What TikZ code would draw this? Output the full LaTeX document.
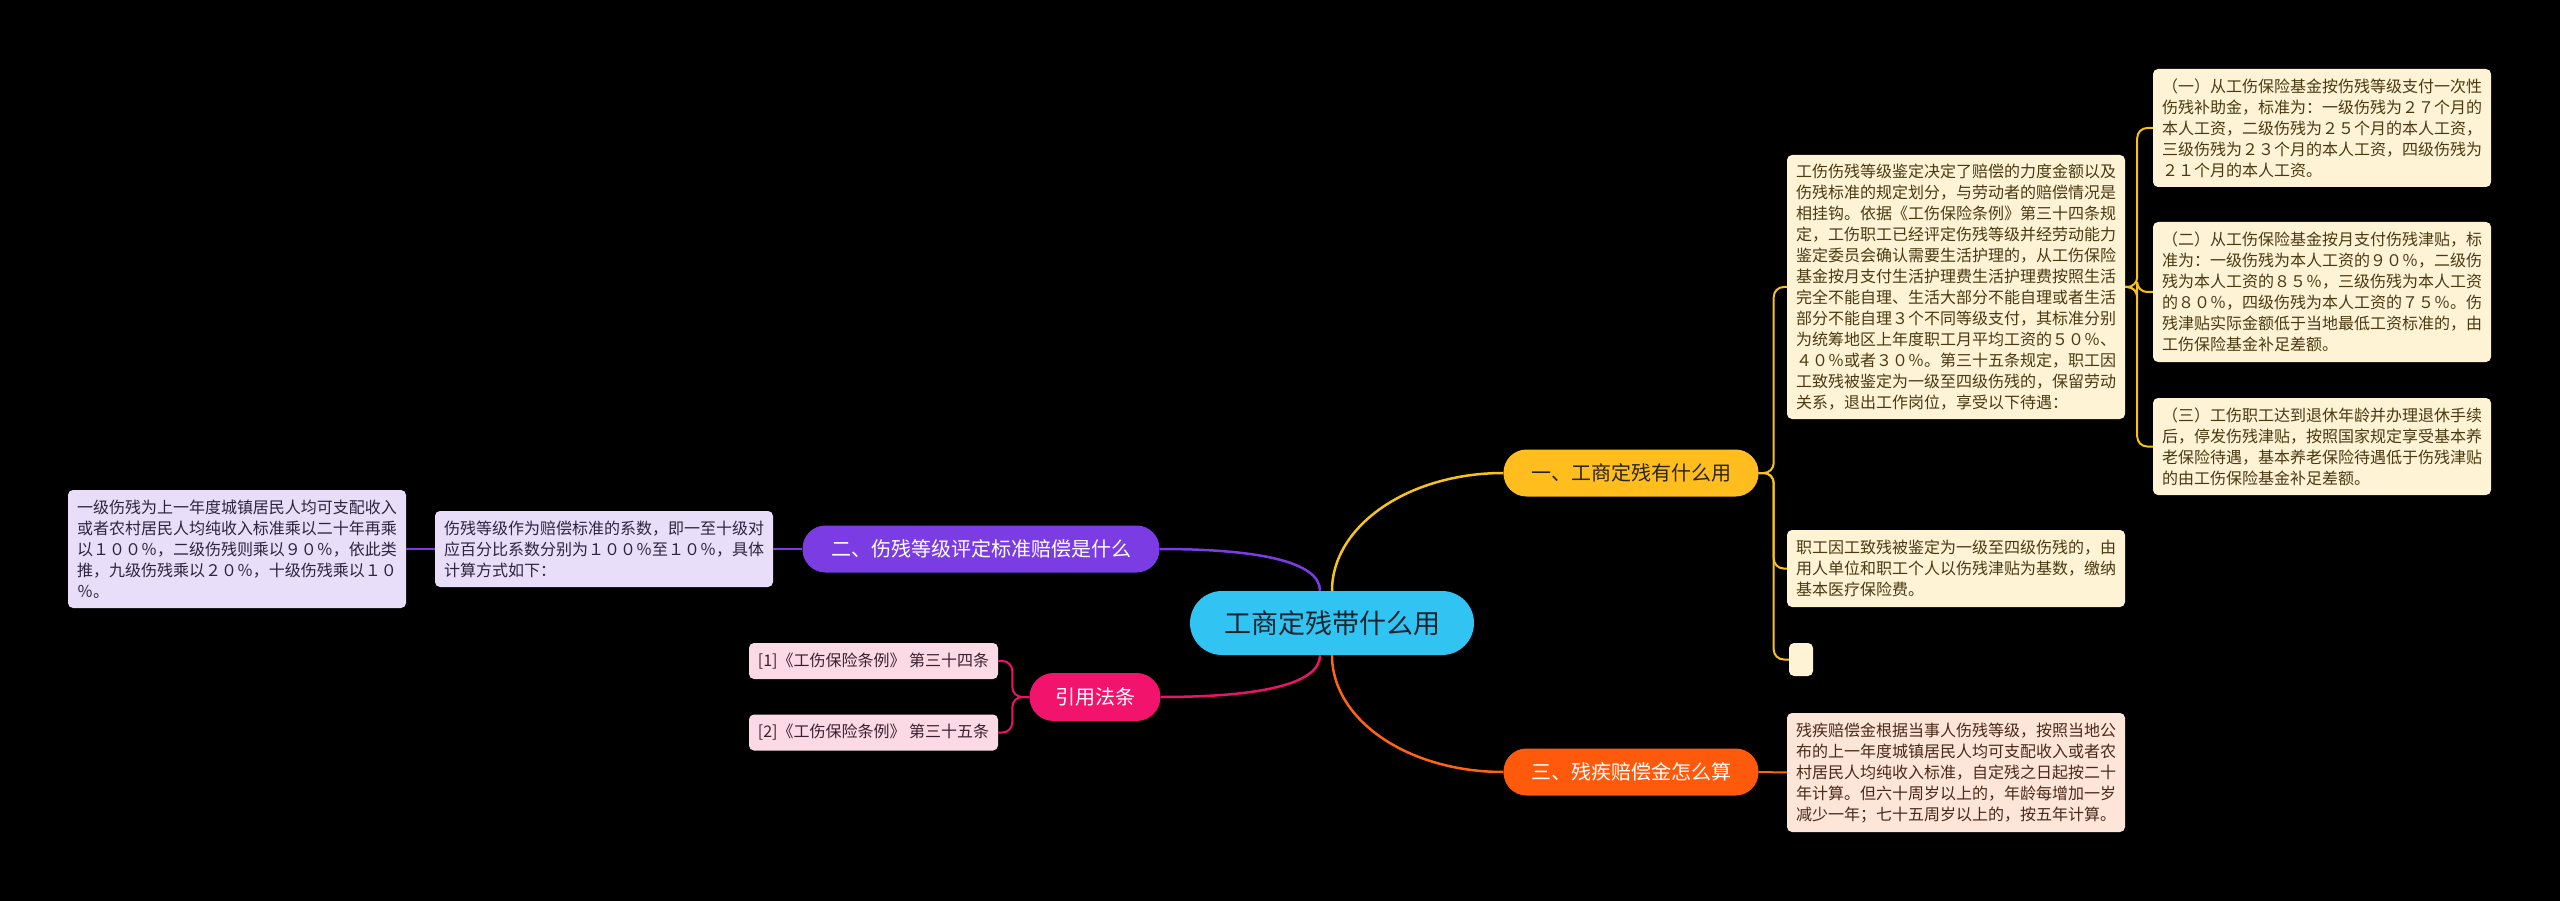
\documentclass[tikz,border=0pt]{standalone}
\usepackage{fontspec}
\setmainfont{Noto Sans CJK SC}
\definecolor{bg}{HTML}{000000}
\definecolor{cfill}{HTML}{31C4F3}
\definecolor{ctext}{HTML}{1B2530}
\definecolor{yfill}{HTML}{FFBE1E}
\definecolor{yline}{HTML}{F7C21C}
\definecolor{pfill}{HTML}{7B3DE3}
\definecolor{pline}{HTML}{7B3DE3}
\definecolor{rfill}{HTML}{F2146C}
\definecolor{rline}{HTML}{E8146A}
\definecolor{ofill}{HTML}{FF5A0C}
\definecolor{oline}{HTML}{FF6414}
\definecolor{cream}{HTML}{FFF3D6}
\definecolor{creamtext}{HTML}{4A3A12}
\definecolor{lav}{HTML}{E9DEFA}
\definecolor{lavtext}{HTML}{2E2440}
\definecolor{peach}{HTML}{FDE5D8}
\definecolor{peachtext}{HTML}{4A2A18}
\definecolor{pinkleaf}{HTML}{FBDAE5}
\definecolor{pinktext}{HTML}{3A2030}
\definecolor{darktext}{HTML}{2A2418}
\tikzset{
  leaf/.style={rectangle, rounded corners=5pt, text width=320pt, inner xsep=9pt, inner ysep=3pt, align=left, font=\fontsize{16pt}{21pt}\selectfont},
  cream/.style={leaf, fill=cream, text=creamtext},
  lav/.style={leaf, fill=lav, text=lavtext},
  peachbox/.style={leaf, fill=peach, text=peachtext},
  refbox/.style={rectangle, rounded corners=5pt, fill=pinkleaf, text=pinktext, minimum width=249pt, minimum height=36pt, inner sep=0pt, font=\fontsize{16pt}{16pt}\selectfont},
  branch/.style={rectangle, rounded corners=23pt, minimum height=47pt, inner sep=0pt, font=\fontsize{20pt}{20pt}\selectfont},
  maincurve/.style={line width=2.5pt},
  subline/.style={line width=2pt, rounded corners=10pt}
}
\begin{document}
\begin{tikzpicture}[x=1pt,y=-1pt]
\path[use as bounding box, fill=bg] (0,0) rectangle (2560,901);

% center
\node[rectangle, rounded corners=32pt, fill=cfill, text=ctext, minimum width=284pt, minimum height=64pt, inner sep=0pt, font=\fontsize{27pt}{27pt}\selectfont] (c) at (1332,623) {工商定残带什么用};

% main branches
\node[branch, fill=yfill, text=darktext, minimum width=255pt] (b1) at (1631,473) {一、工商定残有什么用};
\node[branch, fill=pfill, text=white, minimum width=357pt] (b2) at (981,549) {二、伤残等级评定标准赔偿是什么};
\node[branch, fill=ofill, text=white, minimum width=255pt] (b3) at (1631,772) {三、残疾赔偿金怎么算};
\node[branch, fill=rfill, text=white, minimum width=131pt, minimum height=48pt, rounded corners=24pt] (b4) at (1095,697) {引用法条};

% branch 1 children
\node[cream, minimum height=264pt] (b1a) at (1956,287) {工伤伤残等级鉴定决定了赔偿的力度金额以及\\伤残标准的规定划分，与劳动者的赔偿情况是\\相挂钩。依据《工伤保险条例》第三十四条规\\定，工伤职工已经评定伤残等级并经劳动能力\\鉴定委员会确认需要生活护理的，从工伤保险\\基金按月支付生活护理费生活护理费按照生活\\完全不能自理、生活大部分不能自理或者生活\\部分不能自理３个不同等级支付，其标准分别\\为统筹地区上年度职工月平均工资的５０％、\\４０％或者３０％。第三十五条规定，职工因\\工致残被鉴定为一级至四级伤残的，保留劳动\\关系，退出工作岗位，享受以下待遇：};
\node[cream, minimum height=77pt] (b1b) at (1956,568.5) {职工因工致残被鉴定为一级至四级伤残的，由\\用人单位和职工个人以伤残津贴为基数，缴纳\\基本医疗保险费。};
\node[rectangle, rounded corners=5pt, fill=cream, minimum width=24pt, minimum height=33pt, inner sep=0pt] (b1c) at (1801,659.5) {};

% grandchildren
\node[cream, minimum height=118pt] (g1) at (2322,128) {（一）从工伤保险基金按伤残等级支付一次性\\伤残补助金，标准为：一级伤残为２７个月的\\本人工资，二级伤残为２５个月的本人工资，\\三级伤残为２３个月的本人工资，四级伤残为\\２１个月的本人工资。};
\node[cream, minimum height=140pt] (g2) at (2322,292) {（二）从工伤保险基金按月支付伤残津贴，标\\准为：一级伤残为本人工资的９０％，二级伤\\残为本人工资的８５％，三级伤残为本人工资\\的８０％，四级伤残为本人工资的７５％。伤\\残津贴实际金额低于当地最低工资标准的，由\\工伤保险基金补足差额。};
\node[cream, minimum height=97pt] (g3) at (2322,446.5) {（三）工伤职工达到退休年龄并办理退休手续\\后，停发伤残津贴，按照国家规定享受基本养\\老保险待遇，基本养老保险待遇低于伤残津贴\\的由工伤保险基金补足差额。};

% branch 3 child
\node[peachbox, minimum height=119pt] (b3a) at (1956,772.5) {残疾赔偿金根据当事人伤残等级，按照当地公\\布的上一年度城镇居民人均可支配收入或者农\\村居民人均纯收入标准，自定残之日起按二十\\年计算。但六十周岁以上的，年龄每增加一岁\\减少一年；七十五周岁以上的，按五年计算。};

% branch 2 children
\node[lav, minimum height=76pt] (b2a) at (604,549) {伤残等级作为赔偿标准的系数，即一至十级对\\应百分比系数分别为１００％至１０％，具体\\计算方式如下：};
\node[lav, minimum height=118pt] (b2b) at (237,549) {一级伤残为上一年度城镇居民人均可支配收入\\或者农村居民人均纯收入标准乘以二十年再乘\\以１００％，二级伤残则乘以９０％，依此类\\推，九级伤残乘以２０％，十级伤残乘以１０\\％。};

% references
\node[refbox] (r1) at (873.5,661) {[1]《工伤保险条例》 第三十四条};
\node[refbox] (r2) at (873.5,732.5) {[2]《工伤保险条例》 第三十五条};

% main curves
\draw[maincurve, yline] (c.north) .. controls +(0,-65) and +(-95,0) .. (b1.west);
\draw[maincurve, oline] (c.south) .. controls +(0,65) and +(-95,0) .. (b3.west);
\draw[maincurve, pline] (b2.east) .. controls +(95,0) and +(0,-30) .. ([xshift=-12pt]c.north);
\draw[maincurve, rline] (b4.east) .. controls +(95,0) and +(0,30) .. ([xshift=-12pt]c.south);

% branch 1 connectors
\draw[subline, yline] (b1.east) -- ++(15,0) |- (b1a.west);
\draw[subline, yline] (b1.east) -- ++(15,0) |- (b1b.west);
\draw[subline, yline] (b1.east) -- ++(15,0) |- (b1c.west);
\draw[subline, yline] (b1a.east) -- ++(12,0) |- (g1.west);
\draw[subline, yline] (b1a.east) -- ++(12,0) |- (g2.west);
\draw[subline, yline] (b1a.east) -- ++(12,0) |- (g3.west);

% branch 3 connector
\draw[subline, oline] (b3.east) -- (b3a.west);

% branch 2 connectors
\draw[subline, pline] (b2.west) -- (b2a.east);
\draw[subline, pline] (b2a.west) -- (b2b.east);

% references connectors
\draw[subline, rline] (b4.west) -- ++(-17,0) |- (r1.east);
\draw[subline, rline] (b4.west) -- ++(-17,0) |- (r2.east);
\end{tikzpicture}
\end{document}
